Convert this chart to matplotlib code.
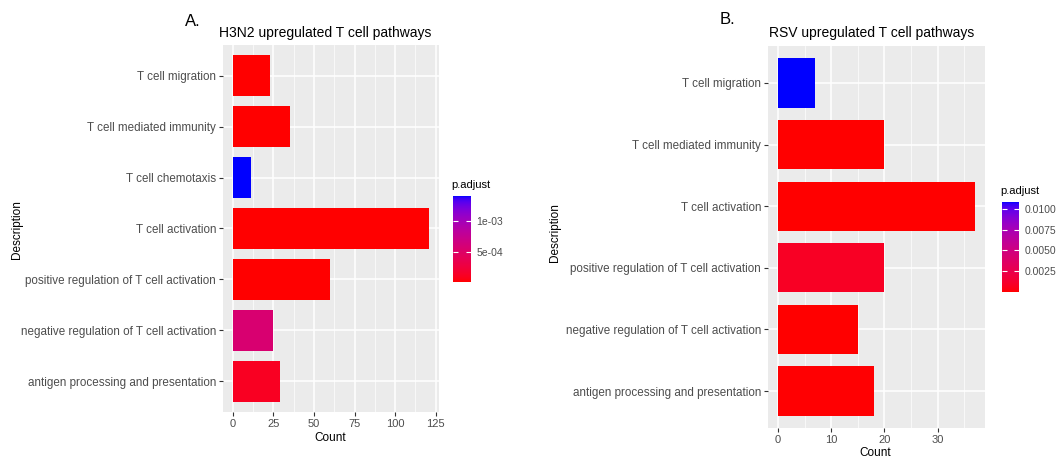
import numpy as np
import matplotlib
matplotlib.use("Agg")
import matplotlib.pyplot as plt
from matplotlib.colors import ListedColormap, Normalize
from matplotlib.cm import ScalarMappable

plt.rcParams['font.family'] = ['Liberation Sans', 'DejaVu Sans']

# ---------------- data ----------------
h3n2_terms = ["T cell migration", "T cell mediated immunity", "T cell chemotaxis",
              "T cell activation", "positive regulation of T cell activation",
              "negative regulation of T cell activation",
              "antigen processing and presentation"]
h3n2_count = [23, 35, 11, 121, 60, 25, 29]
h3n2_padj = [2.0e-7, 1.0e-6, 1.42e-3, 1.0e-12, 5.0e-9, 5.6e-4, 1.1e-4]

rsv_terms = ["T cell migration", "T cell mediated immunity", "T cell activation",
             "positive regulation of T cell activation",
             "negative regulation of T cell activation",
             "antigen processing and presentation"]
rsv_count = [7, 20, 37, 20, 15, 18]
rsv_padj = [0.0108, 1.0e-5, 1.0e-8, 8.5e-4, 3.0e-5, 5.0e-5]

h3n2_cb_ticks = [5e-4, 1e-3]
h3n2_cb_labels = ["5e-04", "1e-03"]
rsv_cb_ticks = [0.0025, 0.0050, 0.0075, 0.0100]
rsv_cb_labels = ["0.0025", "0.0050", "0.0075", "0.0100"]

h3n2_xticks = [0, 25, 50, 75, 100, 125]
rsv_xticks = [0, 10, 20, 30]


# ---------------- red -> blue gradient in Lab space (ggplot style) ----------------
def srgb_to_lab(rgb):
    rgb = np.asarray(rgb, float)
    lin = np.where(rgb <= 0.04045, rgb / 12.92, ((rgb + 0.055) / 1.055) ** 2.4)
    M = np.array([[0.4124, 0.3576, 0.1805], [0.2126, 0.7152, 0.0722], [0.0193, 0.1192, 0.9505]])
    xyz = M @ lin
    wp = np.array([0.95047, 1.0, 1.08883])
    t = xyz / wp
    f = np.where(t > (6 / 29) ** 3, np.cbrt(t), t / (3 * (6 / 29) ** 2) + 4 / 29)
    return np.array([116 * f[1] - 16, 500 * (f[0] - f[1]), 200 * (f[1] - f[2])])


def lab_to_srgb(lab):
    L, a, b = lab
    fy_ = (L + 16) / 116
    fx_ = fy_ + a / 500
    fz_ = fy_ - b / 200
    f = np.array([fx_, fy_, fz_])
    t = np.where(f > 6 / 29, f ** 3, 3 * (6 / 29) ** 2 * (f - 4 / 29))
    xyz = t * np.array([0.95047, 1.0, 1.08883])
    Minv = np.array([[3.2406, -1.5372, -0.4986], [-0.9689, 1.8758, 0.0415], [0.0557, -0.2040, 1.0570]])
    lin = Minv @ xyz
    lin = np.clip(lin, 0, 1)
    rgb = np.where(lin <= 0.0031308, 12.92 * lin, 1.055 * lin ** (1 / 2.4) - 0.055)
    return np.clip(rgb, 0, 1)


lab_r = srgb_to_lab([1, 0, 0])
lab_b = srgb_to_lab([0, 0, 1])
cols = [lab_to_srgb(lab_r + (lab_b - lab_r) * t) for t in np.linspace(0, 1, 256)]
cmap = ListedColormap(cols)

# ---------------- figure ----------------
fig = plt.figure(figsize=(10.56, 4.58), dpi=100)
W, H = 1056, 458


def fx(x):
    return x / W


def fy(y):
    return 1 - y / H


txt_gray = "#4D4D4D"


def panel(rect, terms, counts, padj, xticks, title, title_xy, letter, letter_xy,
          desc_xy, count_xy, cb_rect, cb_ticks, cb_labels, cb_title_xy):
    ax = fig.add_axes(rect)
    n = len(terms)
    ypos = np.arange(n, 0, -1)
    norm = Normalize(vmin=min(padj), vmax=max(padj))
    colors = cmap(norm(np.array(padj)))
    ax.set_facecolor("#EBEBEB")
    ax.barh(ypos, counts, height=0.8, color=colors, zorder=3)
    mx = max(counts)
    ax.set_xlim(-0.05 * mx, mx * 1.05)
    ax.set_ylim(0.4, n + 0.6)
    ax.set_yticks(ypos)
    ax.set_yticklabels(terms, fontsize=8.4, color=txt_gray)
    ax.set_xticks(xticks)
    ax.set_xticklabels([str(t) for t in xticks], fontsize=8, color=txt_gray)
    minor = [(xticks[i] + xticks[i + 1]) / 2 for i in range(len(xticks) - 1)]
    if xticks[-1] + (xticks[1] - xticks[0]) / 2 < mx * 1.05:
        minor.append(xticks[-1] + (xticks[1] - xticks[0]) / 2)
    ax.set_xticks(minor, minor=True)
    ax.tick_params(which="minor", length=0)
    ax.tick_params(which="major", length=3, color="#333333", width=0.8, pad=2)
    ax.grid(True, which="major", color="white", linewidth=1.1, zorder=1)
    ax.grid(True, which="minor", axis="x", color="white", linewidth=0.5, zorder=1)
    ax.set_axisbelow(True)
    for s in ax.spines.values():
        s.set_visible(False)
    fig.text(fx(title_xy[0]), fy(title_xy[1]), title, fontsize=10, color="black",
             ha="left", va="center")
    fig.text(fx(letter_xy[0]), fy(letter_xy[1]), letter, fontsize=12, color="black",
             ha="left", va="center")
    fig.text(fx(desc_xy[0]), fy(desc_xy[1]), "Description", fontsize=8.5, color="black",
             ha="center", va="center", rotation=90)
    fig.text(fx(count_xy[0]), fy(count_xy[1]), "Count", fontsize=8.5, color="black",
             ha="center", va="center")

    cax = fig.add_axes(cb_rect)
    sm = ScalarMappable(norm=norm, cmap=cmap)
    cb = fig.colorbar(sm, cax=cax)
    cb.outline.set_visible(False)
    cb.set_ticks(cb_ticks)
    cb.set_ticklabels(cb_labels)
    cax.tick_params(labelsize=7.5, labelcolor=txt_gray, color="white", direction="in",
                    length=3.5, width=0.8, pad=4)
    cax.yaxis.set_ticks_position("both")
    cax.tick_params(labelleft=False, labelright=True)
    fig.text(fx(cb_title_xy[0]), fy(cb_title_xy[1]), "p.adjust", fontsize=8,
             color="black", ha="left", va="center")
    return ax


panel([fx(223), fy(412), fx(439) - fx(223), (412 - 45) / H],
      h3n2_terms, h3n2_count, h3n2_padj, h3n2_xticks,
      "H3N2 upregulated T cell pathways", (219, 33), "A.", (185, 22),
      (17, 230), (330, 438),
      [fx(453), fy(282), 18 / W, 86 / H], h3n2_cb_ticks, h3n2_cb_labels, (451, 185))

panel([fx(768), fy(428), fx(985) - fx(768), (428 - 46) / H],
      rsv_terms, rsv_count, rsv_padj, rsv_xticks,
      "RSV upregulated T cell pathways", (769, 33), "B.", (720, 20),
      (555, 233), (875, 453),
      [fx(1002), fy(292), 17 / W, 90 / H], rsv_cb_ticks, rsv_cb_labels, (1000, 191))

fig.savefig("out.png", dpi=100)
